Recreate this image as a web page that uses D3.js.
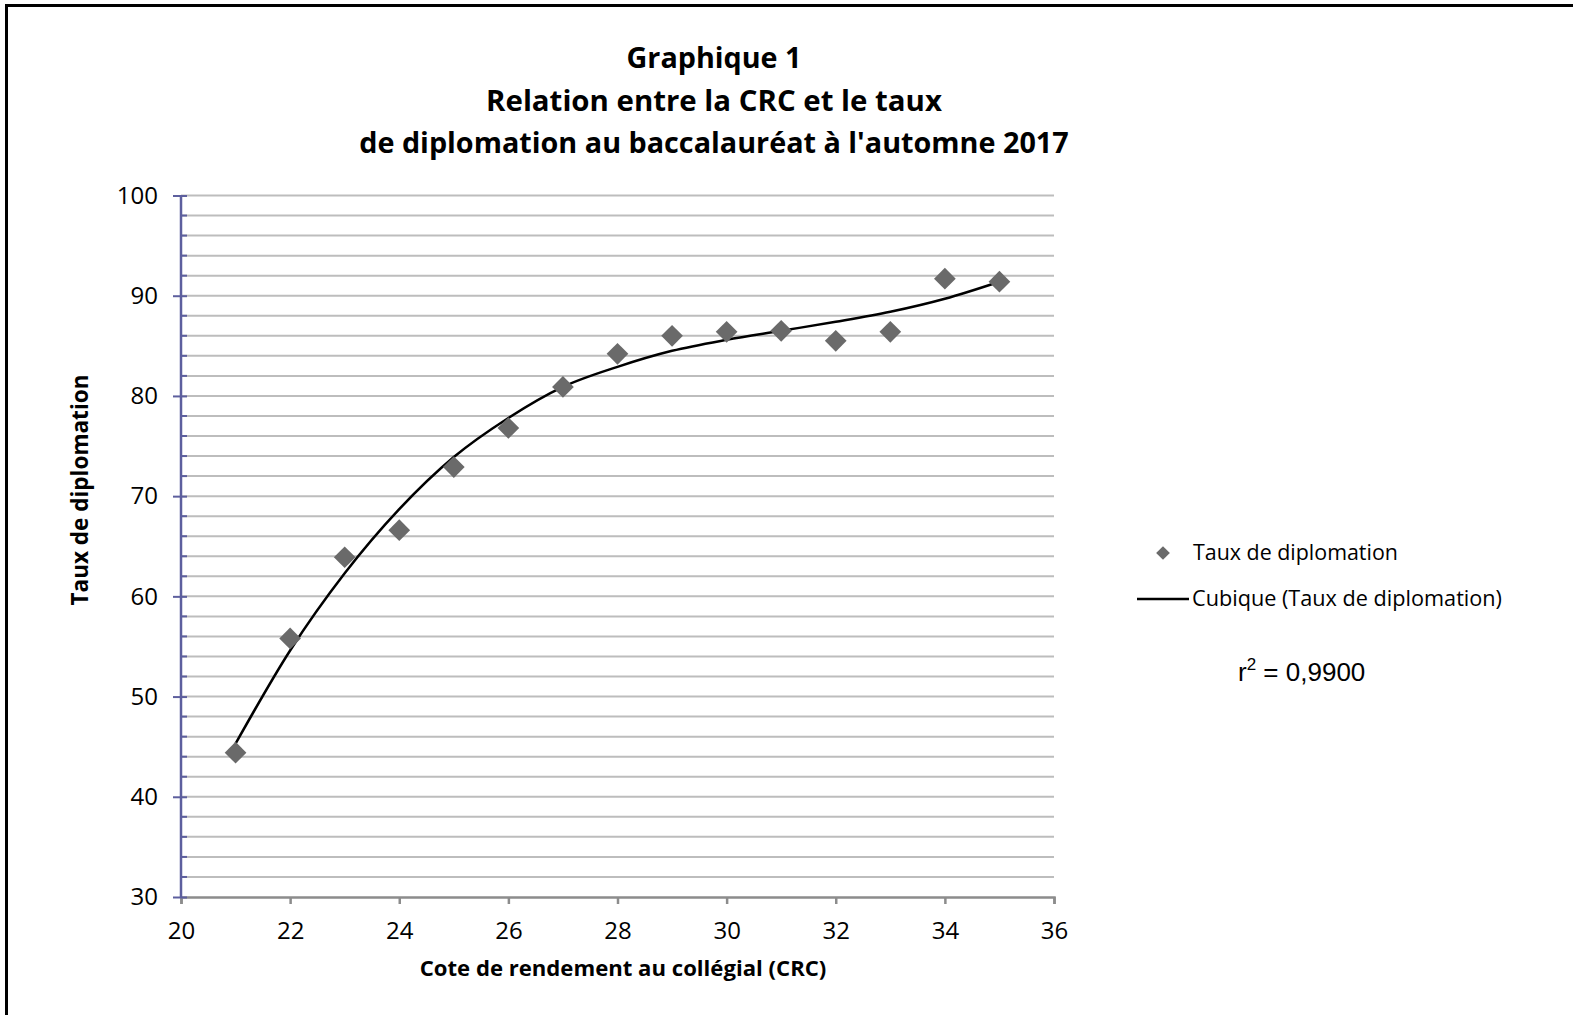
<!DOCTYPE html>
<html><head><meta charset="utf-8">
<script src="https://cdn.jsdelivr.net/npm/d3@7"></script>
<style>
html,body{margin:0;padding:0;background:#fff;}
svg{display:block;}
</style></head>
<body>
<svg id="chart" width="1573" height="1015"></svg>
<script>
// Data
const crc = [21,22,23,24,25,26,27,28,29,30,31,32,33,34,35];
const tauxDiplomation = [44.4,55.8,63.9,66.6,72.9,76.8,80.9,84.2,86.0,86.4,86.5,85.5,86.4,91.7,91.4];
const cubiqueTrend = [45.3,54.6,62.3,68.7,73.9,77.8,80.9,82.9,84.5,85.6,86.5,87.4,88.4,89.7,91.4];
const xTicks = [20,22,24,26,28,30,32,34,36];
const yTicks = [30,40,50,60,70,80,90,100];
const titleLines = ["Graphique 1","Relation entre la CRC et le taux","de diplomation au baccalauréat à l'automne 2017"];
const legendLabels = ["Taux de diplomation","Cubique (Taux de diplomation)"];
const r2Text = "0,9900";

const svg = d3.select("#chart");
const font = "'Open Sans', Lato, sans-serif";

// fit a text element's font size so that its width matches target
function fit(sel, target){
  sel.each(function(){
    const fs = parseFloat(this.getAttribute("font-size"));
    const w = this.getComputedTextLength();
    if (w>0) this.setAttribute("font-size", (fs*target/w).toFixed(2));
  });
}

// outer frame (top & left visible)
svg.append("path").attr("d","M6.5,1015 L6.5,5.5 L1573,5.5").attr("fill","none").attr("stroke","#000").attr("stroke-width",3);

const L=181, R=1054, T=195.5, B=897;
const x = d3.scaleLinear().domain([20,36]).range([L,R]);
const y = d3.scaleLinear().domain([30,100]).range([B,T]);

// gridlines every 2
const gridVals = d3.range(32,101,2);
svg.append("g").selectAll("line").data(gridVals).join("line")
  .attr("x1",L).attr("x2",R).attr("y1",d=>y(d)).attr("y2",d=>y(d))
  .attr("stroke","#bdbdbd").attr("stroke-width",2);

// x axis
const xg = svg.append("g").attr("transform",`translate(0,${B})`)
  .call(d3.axisBottom(x).tickValues(xTicks).tickSize(7).tickPadding(18).tickFormat(d3.format("d")));
xg.select(".domain").attr("stroke","#8c8c8c").attr("stroke-width",2.5);
xg.selectAll(".tick line").attr("stroke","#8c8c8c").attr("stroke-width",2.5);
xg.selectAll("text").attr("font-family",font).attr("font-size",24).attr("fill","#000");

// y minor ticks
svg.append("g").selectAll("line").data(gridVals.filter(v=>v%10!==0)).join("line")
  .attr("x1",L).attr("x2",L+6).attr("y1",d=>y(d)).attr("y2",d=>y(d))
  .attr("stroke","#5d5f9e").attr("stroke-width",2);
// y axis
const yg = svg.append("g").attr("transform",`translate(${L},0)`)
  .call(d3.axisLeft(y).tickValues(yTicks).tickSize(8).tickPadding(15));
yg.select(".domain").attr("stroke","#5d5f9e").attr("stroke-width",2.5).attr("d",`M0,${T}V${B}`);
yg.selectAll(".tick line").attr("stroke","#5d5f9e").attr("stroke-width",2).attr("x2",-8).attr("x1",6);
yg.selectAll("text").attr("font-family",font).attr("font-size",24).attr("fill","#000");

// trend line
const line = d3.line().x((d,i)=>x(crc[i])).y(d=>y(d)).curve(d3.curveMonotoneX);
svg.append("path").datum(cubiqueTrend).attr("d",line).attr("fill","none").attr("stroke","#000").attr("stroke-width",2.5);

// markers
const diamond = d3.symbol().type(d3.symbolDiamond2).size(300);
svg.append("g").selectAll("path").data(tauxDiplomation).join("path")
  .attr("d",diamond).attr("transform",(d,i)=>`translate(${x(crc[i])},${y(d)})`)
  .attr("fill","#6a6a6a");

// title
const titleWidths = [175,456,710];
svg.append("g").selectAll("text").data(titleLines).join("text")
  .attr("x",714).attr("y",(d,i)=>68+i*42.5).attr("text-anchor","middle")
  .attr("font-family",font).attr("font-weight","bold").attr("font-size",26).attr("fill","#000")
  .text(d=>d)
  .call(s=>s.each(function(d,i){ fit(d3.select(this), titleWidths[i]); }));

// axis titles
svg.append("text").attr("x",623).attr("y",976).attr("text-anchor","middle")
  .attr("font-family",font).attr("font-weight","bold").attr("font-size",19).text("Cote de rendement au collégial (CRC)")
  .call(fit,407);
svg.append("text").attr("transform","translate(88,490) rotate(-90)").attr("text-anchor","middle")
  .attr("font-family",font).attr("font-weight","bold").attr("font-size",19).text("Taux de diplomation")
  .call(fit,231);

// legend
svg.append("path").attr("d",d3.symbol().type(d3.symbolDiamond2).size(120)()).attr("transform","translate(1163,553)").attr("fill","#6a6a6a");
svg.append("text").attr("x",1193).attr("y",560).attr("font-family",font).attr("font-size",19).text(legendLabels[0]).call(fit,205);
svg.append("line").attr("x1",1137).attr("x2",1189).attr("y1",599).attr("y2",599).attr("stroke","#000").attr("stroke-width",2.5);
svg.append("text").attr("x",1192).attr("y",606).attr("font-family",font).attr("font-size",19).text(legendLabels[1]).call(fit,310);

// r2
const r2 = svg.append("text").attr("x",1238).attr("y",681).attr("font-family","'Liberation Sans', Arial, sans-serif").attr("font-size",26);
r2.append("tspan").text("r");
r2.append("tspan").attr("dy",-11).attr("font-size",17).text("2");
r2.append("tspan").attr("dy",11).text(" = " + r2Text);
</script>
</body></html>
